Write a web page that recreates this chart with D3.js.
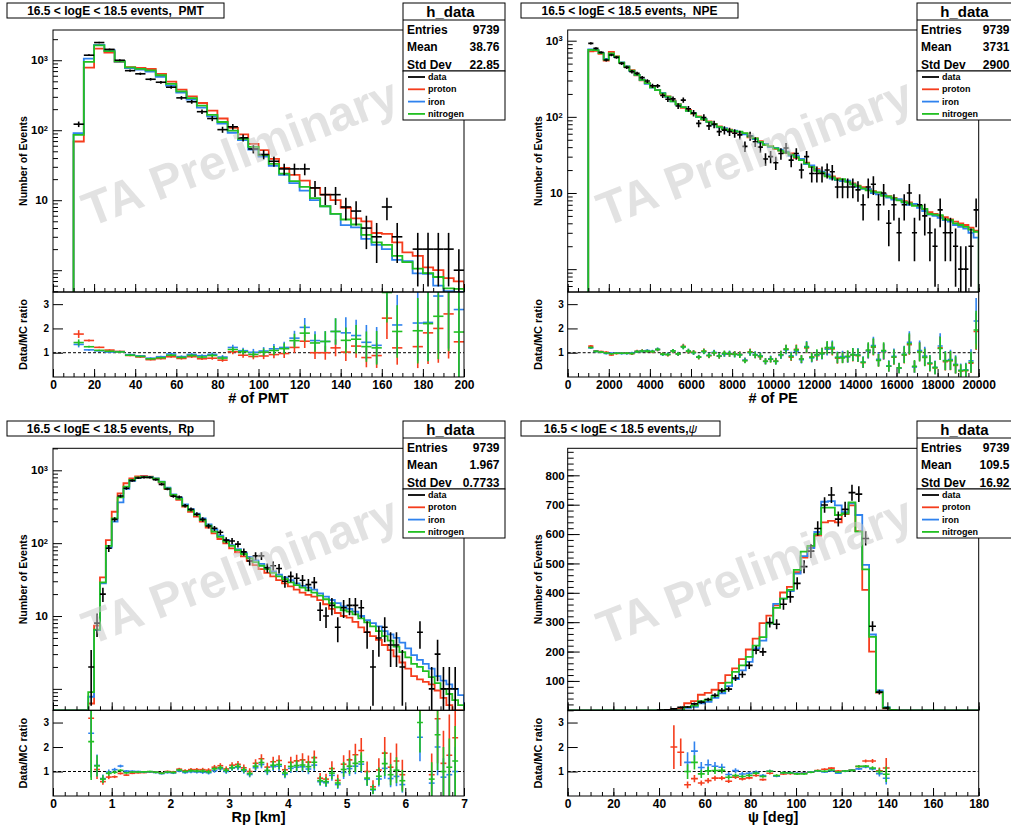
<!DOCTYPE html>
<html>
<head>
<meta charset="utf-8">
<script src="https://cdn.jsdelivr.net/npm/d3@7"></script>
<style>
  body { margin: 0; background: #fff; }
  svg text { font-family: "Liberation Sans", Arial, Helvetica, sans-serif; font-weight: bold; fill: #000; white-space: pre; }
</style>
</head>
<body>
<div id="chart"></div>
<script>
// ---------- data (counts per bin) ----------
const seriesNames = ["proton", "iron", "nitrogen"];
const seriesColors = ["#f53d1d", "#2f82ee", "#22c022"];

// # of PMT : bins of 5 starting at 10
const pmtLo = 10, pmtWidth = 5;
const pmtData = [122,1180,1790,1430,1000,710,640,535,485,412, 290,255,184,147,102,112,78,54,45,36, 28,28,28,15,12,12,8,7,4,3, 8,3,0,2,2,2,2,1];
const pmtProton = [69,785,1466,1290,950,800,775,750,640,495, 380,305,245,190,147,108,87,64,52,39, 29,23,19,15,12,10,7.8,5.5,5,3.4, 3.3,2.5,1.8,1.6,1.1,1.0,0.77,0.69];
const pmtIron = [91,1056,1660,1390,960,770,735,690,580,435, 345,275,210,158,124,92,72,53,42,31, 23,17.5,13.7,10,8.2,6.4,4.4,4.1,2.8,2.3, 2.0,1.4,1.35,0.9,0.89,0.6,0.5,0.36];
const pmtNitrogen = [86,947,1630,1350,968,790,755,715,610,460, 360,288,224,166,131,99,75,58,44,33, 24,18.7,15.5,10.7,8.2,6.4,5.3,4.5,3.2,2.5, 2.3,1.6,1.3,1.05,0.91,0.8,0.55,0.54];
const pmtStats = ["9739", "38.76", "22.85"];

// # of PE : bins of 250 starting at 1000
const npeLo = 1000, npeWidth = 250;
const npeData = [922,792,703,557,649,604,503,446,392,372, 327,295,256,255,191,170,172,139,166,128,
  112,82,98,76,80,64,67,64,61,58, 41,56,47,40,28,30,25,33,39,27, 33,20,30,18,18,18,20,19,12,12,
  12,12,11,7,12,13,7,10,4,7, 3,7,10,3,7,5,3,2,6,3, 3,2,1,1,2,6];
const npeProton = [725,735,672,547,715,622,510,455,410,350, 302,276,246,226,200,186,163,147,131,123,
  110,101,92,87,81,75,70,68,64,62, 60,54,52,48,43,41,38,36,34,33, 29,27,25,22,20.5,18.5,17,16.5,15.5,14.8,
  14.4,13.4,12.5,11.9,11.2,10.6,10.1,9.6,9.1,8.6, 8.2,7.8,7.5,7.1,6.7,6.1,5.6,5.3,5.0,4.8, 4.5,4.2,4.0,3.8,3.5,3.2];
const npeIron = [770,750,690,575,665,610,518,460,398,356, 307,272,242,224,206,182,160,145,134,120,
  112,99,94,85,79,73,71,66,66,63, 59,56,51,46,44,40,39,37,35,31, 31,28,24,23,20,19,17.5,15.5,14.8,14.3,
  14.5,13,12,11.3,11.2,10.0,9.6,9.5,8.7,8.2, 8.3,7.5,7.0,7.2,6.4,5.8,5.2,5.0,4.7,4.4, 4.2,3.8,3.6,3.4,3.0,2.6];
const npeNitrogen = [760,750,685,565,680,618,515,455,405,356, 306,277,244,225,203,184,160,146,134,120,
  111,100,93,86,80,74,69,67,65,64, 61,55,52,47,43,41,38.5,36,34,32, 29.5,27,24.5,22,19.5,18.5,16.5,16,15,15.2,
  14,13,12.3,11.5,10.8,10.4,10.2,9.2,9.0,8.5, 8.0,7.6,7.3,6.8,6.8,6.2,5.3,5.2,5.1,4.5, 4.4,4.0,3.8,3.6,3.3,3.1];
const npeStats = ["9739", "3731", "2900"];

// Rp [km] : bins of 0.1 starting at 0
const rpLo = 0, rpWidth = 0.1;
const rpData = [0,0,0,0,0,0,2,8,20,85, 212,445,566,721,785,800,800,745,642,554,
  440,430,327,291,249,212,172,160,141,110, 107,97,76,57,67,67,46,49,45,30,
  35,33,31,27,29,12,10,14,7,13, 14,14,13,6,2,5,7,4,4,2, 0,0,6,0,1,3,1,1,1,0];
const rpProton = [0,0,0,0,0,0,0.63,7.4,34,110, 270,483,664,777,827,835,818,768,678,554,
  449,392,317,270,231,197,163,136,114,99.5, 85,75,66,57,50,44,39,35,31,28,
  25.5,23,21,19.5,18.5,16.5,14.5,12.5,11,10, 9.5,8.3,7,6,5.3,4.7,4,3.4,2.8,2.3,
  1.9,1.5,1.35,1.25,1.15,0.95,0.75,0.6,0.42,0.3];
const rpIron = [0,0,0,0,0,0,0.78,6.4,28,87, 197,364,555,714,785,818,810,776,700,578,
  468,422,341,294,254,219,181,155,127,110, 94,83,74,65,58,52,46,41,37,34,
  31,28,26,24.5,23,20.5,18.5,16.6,15,13.5, 12.5,11.5,10,8.8,8,7.2,6.2,5.6,5,4.3,
  3.6,2.9,2.5,2.2,1.9,1.5,1.3,1.15,1.0,0.82];
const rpNitrogen = [0,0.3,0.3,0.3,0.3,0.3,0.9,6.5,29,92, 219,426,597,737,800,810,800,768,692,566,
  458,405,327,282,244,208,174,144,122,105, 92,80,71,62,55,49,44,39,35,32,
  29,26.5,24.5,22.5,21,19,17,15,13.2,12, 11.5,10.5,9.3,8.2,7.2,6.2,5.3,4.6,3.8,3.2,
  2.7,2.2,2.0,1.75,1.45,1.2,1.0,0.85,0.7,0.6];
const rpStats = ["9739", "1.967", "0.7733"];

// psi [deg] : bins of 3 starting at 0
const psiLo = 0, psiWidth = 3;
const psiData = [0,0,0,0,0,0,0,0,0,0, 0,0,0,1,2,5,10,11,22,28, 37,51,68,72,110,122,153,205,199,299,
  293,361,386,432,489,542,619,699,733,651, 684,741,736,585,286,62,8,0,0,0, 0,0,0,0,0,0,0,0,0,0];
const psiProton = [0,0,0,0,0,0,0,0,0,0, 0,0,0,0,0,2.5,5.6,24,31,53, 59,70,93,120,143,174,207,244,297,322,
  357,401,420,470,520,555,595,640,645,640, 668,698,610,410,200,60,7,1,0,0, 0,0,0,0,0,0,0,0,0,0];
const psiIron = [0,0,0,0,0,0,0,0,0,0, 0,0,0,0,0,0,0,8,12,24, 29,42,58,82,106,136,165,211,237,296,
  362,380,406,465,525,552,607,710,712,698, 675,705,665,495,258,68,11,1,0,0, 0,0,0,0,0,0,0,0,0,0];
const psiNitrogen = [0,0,0,0,0,0,0,0,0,0, 0,0,0,0,0,0,0,11,16,31, 36,49,65,94,131,153,182,220,249,296,
  349,380,410,478,540,560,600,690,690,665, 670,708,608,480,250,62,9,1,0,0, 0,0,0,0,0,0,0,0,0,0];
const psiStats = ["9739", "109.5", "16.92"];

// axis tick labels
const pmtXTicks = [0,20,40,60,80,100,120,140,160,180,200];
const npeXTicks = [0,2000,4000,6000,8000,10000,12000,14000,16000,18000,20000];
const rpXTicks = [0,1,2,3,4,5,6,7];
const psiXTicks = [0,20,40,60,80,100,120,140,160,180];
const psiYTicks = [100,200,300,400,500,600,700,800];
const logYTicks = [10,100,1000];
const ratioTicks = [1,2,3];
const statLabels = ["Entries", "Mean", "Std Dev"];

// ---------- layout ----------
const W = 1011, H = 829;
const cols = [{x0: 53, x1: 464, box: 403, title: 7}, {x0: 567.7, x1: 978.7, box: 917, title: 521}];
const rows = [{top: 30, mid: 292, bot: 377, off: 0}, {top: 448.3, mid: 710.3, bot: 796, off: 418}];

const svg = d3.select("#chart").append("svg").attr("width", W).attr("height", H);
svg.append("rect").attr("width", W).attr("height", H).attr("fill", "#fff");
const defs = svg.append("defs");

const panels = [
  {col: 0, row: 0, title: "16.5 < logE < 18.5 events,  PMT", titleW: 217, xTitle: "# of PMT",
   lo: pmtLo, w: pmtWidth, data: pmtData, mc: [pmtProton, pmtIron, pmtNitrogen], stats: pmtStats,
   xDomain: [0, 200], xMajor: pmtXTicks, xMinorStep: 5, log: true, yDomain: [0.488, 2705]},
  {col: 1, row: 0, title: "16.5 < logE < 18.5 events,  NPE", titleW: 217, xTitle: "# of PE",
   lo: npeLo, w: npeWidth, data: npeData, mc: [npeProton, npeIron, npeNitrogen], stats: npeStats,
   xDomain: [0, 20000], xMajor: npeXTicks, xMinorStep: 500, log: true, yDomain: [0.501, 1382]},
  {col: 0, row: 1, title: "16.5 < logE < 18.5 events,  Rp", titleW: 207, xTitle: "Rp [km]",
   lo: rpLo, w: rpWidth, data: rpData, mc: [rpProton, rpIron, rpNitrogen], stats: rpStats,
   xDomain: [0, 7], xMajor: rpXTicks, xMinorStep: 0.2, log: true, yDomain: [0.508, 2005]},
  {col: 1, row: 1, title: "16.5 < logE < 18.5 events,", titlePsi: true, titleW: 199, xTitle: "ψ [deg]",
   lo: psiLo, w: psiWidth, data: psiData, mc: [psiProton, psiIron, psiNitrogen], stats: psiStats,
   xDomain: [0, 180], xMajor: psiXTicks, xMinorStep: 5, log: false, yDomain: [0, 892]}
];

function cleanAxis(g) {
  g.select(".domain").remove();
  g.selectAll(".tick line").attr("stroke", "#000").attr("stroke-width", 1);
}

function drawPanel(p, idx) {
  const c = cols[p.col], rw = rows[p.row];
  const g = svg.append("g");
  const x = d3.scaleLinear().domain(p.xDomain).range([c.x0, c.x1]);
  const y = (p.log ? d3.scaleLog() : d3.scaleLinear()).domain(p.yDomain).range([rw.mid, rw.top]).clamp(true);
  const r = d3.scaleLinear().domain([0, 3.5]).range([rw.bot, rw.mid]);
  const yMin = p.yDomain[0];
  const yv = v => y(Math.max(v, p.log ? yMin * 0.5 : 0));

  // clip areas
  defs.append("clipPath").attr("id", "cm" + idx).append("rect")
    .attr("x", c.x0).attr("y", rw.top).attr("width", c.x1 - c.x0).attr("height", rw.mid - rw.top);
  defs.append("clipPath").attr("id", "cr" + idx).append("rect")
    .attr("x", c.x0).attr("y", rw.mid).attr("width", c.x1 - c.x0).attr("height", rw.bot - rw.mid);

  //MC histograms as steps
  const main = g.append("g").attr("clip-path", `url(#cm${idx})`);
  const line = d3.line().x(d => x(d[0])).y(d => yv(d[1]));
  p.mc.forEach((vals, k) => {
    const pts = [[p.lo, 0]];
    vals.forEach((v, i) => {
      pts.push([p.lo + i * p.w, v], [p.lo + (i + 1) * p.w, v]);
    });
    pts.push([p.lo + vals.length * p.w, 0]);
    main.append("path").attr("d", line(pts))
      .attr("fill", "none").attr("stroke", seriesColors[k]).attr("stroke-width", 1.8);
  });

  //Data points with sqrt(N) errors
  const pts = p.data.map((n, i) => ({n, a: p.lo + i * p.w})).filter(d => d.n > 0);
  const dg = main.append("g").attr("stroke", "#000").attr("stroke-width", 1.6);
  dg.selectAll(null).data(pts).join("line")
    .attr("x1", d => x(d.a)).attr("x2", d => x(d.a + p.w))
    .attr("y1", d => y(d.n)).attr("y2", d => y(d.n));
  dg.selectAll(null).data(pts).join("line")
    .attr("x1", d => x(d.a + p.w / 2)).attr("x2", d => x(d.a + p.w / 2))
    .attr("y1", d => yv(d.n - Math.sqrt(d.n))).attr("y2", d => yv(d.n + Math.sqrt(d.n)));

  //Watermark
  g.append("text").text("TA Preliminary")
    .attr("transform", `translate(${c.x0 + 187},${rw.top + 122}) rotate(-21)`)
    .attr("text-anchor", "middle").attr("dominant-baseline", "central")
    .attr("font-size", 48).style("fill", "#c8c8c8").style("fill-opacity", 0.52);

  //Ratio panel
  const rg = g.append("g").attr("clip-path", `url(#cr${idx})`);
  rg.append("line").attr("x1", c.x0).attr("x2", c.x1).attr("y1", r(1)).attr("y2", r(1))
    .attr("stroke", "#000").attr("stroke-width", 1).attr("stroke-dasharray", "3,2");
  p.mc.forEach((vals, k) => {
    const rp = p.data.map((n, i) => ({n, m: vals[i], a: p.lo + i * p.w}))
      .filter(d => d.n > 0 && d.m > 0)
      .map(d => ({a: d.a, v: d.n / d.m, e: Math.sqrt(d.n) / d.m}));
    const sg = rg.append("g").attr("stroke", seriesColors[k]).attr("stroke-width", 1.6);
    sg.selectAll(null).data(rp).join("line")
      .attr("x1", d => x(d.a + p.w / 2)).attr("x2", d => x(d.a + p.w / 2))
      .attr("y1", d => r(d.v - d.e)).attr("y2", d => r(d.v + d.e));
    sg.selectAll(null).data(rp).join("line")
      .attr("x1", d => x(d.a)).attr("x2", d => x(d.a + p.w))
      .attr("y1", d => r(d.v)).attr("y2", d => r(d.v));
  });

  //Frames
  g.append("rect").attr("x", c.x0).attr("y", rw.top).attr("width", c.x1 - c.x0).attr("height", rw.mid - rw.top)
    .attr("fill", "none").attr("stroke", "#000").attr("stroke-width", 1);
  g.append("rect").attr("x", c.x0).attr("y", rw.mid).attr("width", c.x1 - c.x0).attr("height", rw.bot - rw.mid)
    .attr("fill", "none").attr("stroke", "#000").attr("stroke-width", 1);

  //X ticks (main bottom, ratio bottom)
  const xMinor = d3.range(p.xDomain[0], p.xDomain[1] + p.xMinorStep / 2, p.xMinorStep);
  [rw.mid, rw.bot].forEach((yy, j) => {
    g.append("g").attr("transform", `translate(0,${yy})`)
      .call(d3.axisBottom(x).tickValues(xMinor).tickSize(-4).tickFormat("")).call(cleanAxis);
    const ax = g.append("g").attr("transform", `translate(0,${yy})`)
      .call(d3.axisBottom(x).tickValues(p.xMajor).tickSize(-8).tickPadding(3)
        .tickFormat(j === 1 ? d3.format("d") : ""))
      .call(cleanAxis);
    ax.selectAll("text").attr("font-size", 12).style("fill", "#000");
  });

  //Y ticks main
  if (p.log) {
    const all = y.ticks();
    const major = all.filter(v => Math.abs(Math.log10(v) - Math.round(Math.log10(v))) < 1e-9);
    const minor = all.filter(v => !major.includes(v));
    g.append("g").attr("transform", `translate(${c.x0},0)`)
      .call(d3.axisLeft(y).tickValues(minor).tickSize(-5).tickFormat("")).call(cleanAxis);
    g.append("g").attr("transform", `translate(${c.x0},0)`)
      .call(d3.axisLeft(y).tickValues(major).tickSize(-9).tickFormat("")).call(cleanAxis);
    g.selectAll(null).data(logYTicks).join("text")
      .attr("x", c.x0 - 5).attr("y", d => y(d)).attr("dy", "0.36em")
      .attr("text-anchor", "end").attr("font-size", 11.5)
      .each(function(d) {
        const t = d3.select(this);
        t.append("tspan").text("10");
        if (d > 10) t.append("tspan").attr("dy", "-0.45em").attr("font-size", 7.5).text(Math.round(Math.log10(d)));
      });
  } else {
    const minor = d3.range(0, p.yDomain[1], 20);
    g.append("g").attr("transform", `translate(${c.x0},0)`)
      .call(d3.axisLeft(y).tickValues(minor).tickSize(-6).tickFormat("")).call(cleanAxis);
    const ax = g.append("g").attr("transform", `translate(${c.x0},0)`)
      .call(d3.axisLeft(y).tickValues(psiYTicks).tickSize(-12).tickPadding(3)).call(cleanAxis);
    ax.selectAll("text").attr("font-size", 11.5).style("fill", "#000");
  }

  //Y ticks ratio
  const ra = g.append("g").attr("transform", `translate(${c.x0},0)`)
    .call(d3.axisLeft(r).tickValues(ratioTicks).tickSize(-10).tickPadding(4).tickFormat(d3.format("d")))
    .call(cleanAxis);
  ra.selectAll("text").attr("font-size", 10).style("fill", "#000");

  //Axis titles
  g.append("text").text("Number of Events")
    .attr("transform", `translate(${c.x0 - 30},${(rw.top + rw.mid) / 2}) rotate(-90)`)
    .attr("text-anchor", "middle").attr("dominant-baseline", "central").attr("font-size", 10.5);
  g.append("text").text("Data/MC ratio")
    .attr("transform", `translate(${c.x0 - 30},${(rw.mid + rw.bot) / 2}) rotate(-90)`)
    .attr("text-anchor", "middle").attr("dominant-baseline", "central").attr("font-size", 11);
  g.append("text").text(p.xTitle)
    .attr("x", (c.x0 + c.x1) / 2).attr("y", rw.bot + 21).attr("dominant-baseline", "central")
    .attr("text-anchor", "middle").attr("font-size", 14.5);

  //Title box
  g.append("rect").attr("x", c.title).attr("y", rw.off + 3).attr("width", p.titleW).attr("height", 15)
    .attr("fill", "#fff").attr("stroke", "#000").attr("stroke-width", 1);
  const tt = g.append("text").attr("x", c.title + p.titleW / 2).attr("y", rw.off + 10.5)
    .attr("xml:space", "preserve")
    .attr("dominant-baseline", "central").attr("text-anchor", "middle").attr("font-size", 12)
    .text(p.title);
  if (p.titlePsi) tt.append("tspan").attr("font-style", "italic").attr("font-weight", "normal").text("ψ");

  //Stats box
  const bx = c.box, by = rw.off + 3;
  const valX = Math.min(bx + 96.5, W - 1.5);
  g.append("rect").attr("x", bx).attr("y", by).attr("width", 102).attr("height", 68)
    .attr("fill", "#fff").attr("stroke", "#000").attr("stroke-width", 1);
  g.append("line").attr("x1", bx).attr("x2", bx + 102).attr("y1", by + 17).attr("y2", by + 17)
    .attr("stroke", "#000");
  g.append("text").text("h_data").attr("x", bx + 47.5).attr("y", by + 8.7)
    .attr("text-anchor", "middle").attr("dominant-baseline", "central").attr("font-size", 15);
  statLabels.forEach((lab, k) => {
    const yy = by + 26.5 + k * 17.5;
    g.append("text").text(lab).attr("x", bx + 4).attr("y", yy)
      .attr("dominant-baseline", "central").attr("font-size", 12);
    g.append("text").text(p.stats[k]).attr("x", valX).attr("y", yy)
      .attr("text-anchor", "end").attr("dominant-baseline", "central").attr("font-size", 12);
  });

  //Legend box
  const ly = by + 68;
  g.append("rect").attr("x", bx).attr("y", ly).attr("width", 102).attr("height", 49)
    .attr("fill", "#fff").attr("stroke", "#000").attr("stroke-width", 1);
  const legNames = ["data"].concat(seriesNames);
  const legColors = ["#000"].concat(seriesColors);
  legNames.forEach((nm, k) => {
    const yy = ly + 6 + k * 12.3;
    g.append("line").attr("x1", bx + 5).attr("x2", bx + 22).attr("y1", yy).attr("y2", yy)
      .attr("stroke", legColors[k]).attr("stroke-width", 1.8);
    g.append("text").text(nm).attr("x", bx + 25).attr("y", yy)
      .attr("dominant-baseline", "central").attr("font-size", 9);
  });
}

panels.forEach((p, i) => drawPanel(p, i));
</script>
</body>
</html>
